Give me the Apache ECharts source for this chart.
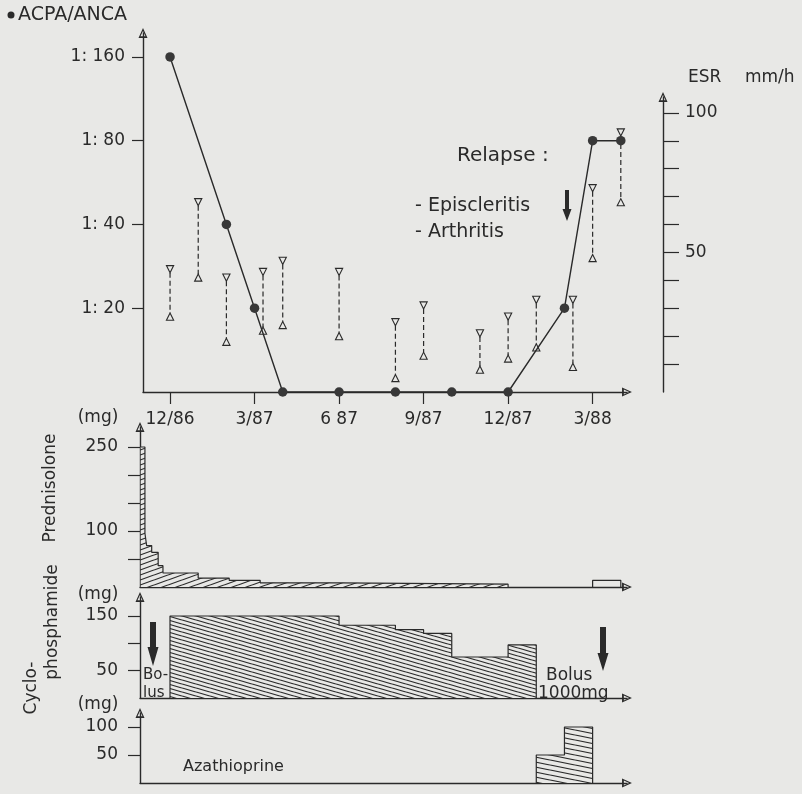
<!DOCTYPE html>
<html>
<head>
<meta charset="utf-8">
<title>ACPA/ANCA, ESR and therapy</title>
<script src="https://cdn.jsdelivr.net/npm/echarts@6/dist/echarts.min.js"></script>
<style>
  html, body { margin: 0; padding: 0; background: #e8e8e6; }
  #chart { width: 802px; height: 794px; }
</style>
</head>
<body>
<div id="chart"></div>
<script>
// === Data (months counted from 12/86) ===
const tickMonths = [0, 3, 6, 9, 12, 15];
const tickLabels = ['12/86', '3/87', '6 87', '9/87', '12/87', '3/88'];

const titreTicks = [20, 40, 80, 160];
const acpaMonths = [0, 2, 3, 4, 6, 8, 10, 12, 14, 15, 16];
const acpaTitre = [160, 40, 20, 10, 10, 10, 10, 10, 20, 80, 80];

const esrTicks = [10, 20, 30, 40, 50, 60, 70, 80, 90, 100];
const esrLabels = [50, 100];
const esrMonths = [0, 1, 2, 3.3, 4, 6, 8, 9, 11, 12, 13, 14.3, 15, 16];
const esrHigh = [44, 68, 41, 43, 47, 43, 25, 31, 21, 27, 33, 33, 73, 93];
const esrLow = [27, 41, 18, 22, 24, 20, 5, 13, 8, 12, 16, 9, 48, 68];

const predTicks = [50, 100, 150, 200, 250];
const predLabels = [100, 250];
const predMonths = [-1.04, -0.89, -0.83, -0.65, -0.42, -0.25, 1.0, 2.1, 3.2, 6.0, 12.0];
const predDose = [250, 96, 74, 62, 38, 25, 16, 12, 7.5, 5, 0];
const predRestartMonths = [15, 15, 16];
const predRestartDose = [0, 12, 0];

const cycloTicks = [50, 100, 150];
const cycloLabels = [50, 150];
const cycloMonths = [0, 0, 6, 8, 9, 10, 12, 13];
const cycloDose = [0, 150, 133, 125, 118, 75, 97, 0];

const azaTicks = [50, 100];
const azaMonths = [13, 13, 14, 15];
const azaDose = [0, 50, 100, 0];

// === Style ===
const INK = '#2a2a2a';
const BG = '#e8e8e6';
const FONT = 'DejaVu Sans';
const ARROW = 'path://M5,0 L10,11 L0,11 Z M5,3.2 L2.2,9 L7.8,9 Z';

const pairs = (xs, ys) => xs.map((x, i) => [x, ys[i]]);

// hachures : tuile w x h, une ligne par tuile
function hatch(w, h, rising) {
  const c = document.createElement('canvas');
  c.width = w; c.height = h;
  const g = c.getContext('2d');
  g.fillStyle = BG; g.fillRect(0, 0, w, h);
  g.strokeStyle = INK; g.lineWidth = 1.15;
  for (let k = -1; k <= 1; k++) {
    g.beginPath();
    if (rising) { g.moveTo(0, k * h + h); g.lineTo(w, k * h); }
    else { g.moveTo(0, k * h); g.lineTo(w, k * h + h); }
    g.stroke();
  }
  return { image: c, repeat: 'repeat' };
}

const axisLine = { show: true, onZero: false, symbol: ['none', ARROW], symbolSize: [9, 11], lineStyle: { color: INK, width: 1.4 } };

function timeAxis(grid, min, extra) {
  return Object.assign({
    type: 'value', gridIndex: grid, min: min, max: 16.22,
    axisLine: axisLine,
    axisTick: { show: false }, axisLabel: { show: false }, splitLine: { show: false }
  }, extra || {});
}

function doseAxis(grid, max, ticks, labels) {
  return {
    type: 'value', gridIndex: grid, min: 0, max: max,
    axisLine: axisLine,
    axisTick: { show: true, length: 12, customValues: ticks, lineStyle: { color: INK, width: 1.2 } },
    axisLabel: { customValues: labels, margin: 22, color: INK, fontFamily: FONT, fontSize: 17 },
    splitLine: { show: false }
  };
}

function stepArea(x, y, data, fill) {
  return {
    type: 'line', xAxisIndex: x, yAxisIndex: y, data: data, step: 'end',
    symbol: 'none', lineStyle: { color: INK, width: 1.2 },
    areaStyle: fill ? { color: fill, opacity: 1 } : undefined, z: 3
  };
}

function thickArrow(cx, top, bottom, shaft, head, headLen) {
  return {
    type: 'polygon',
    shape: { points: [
      [cx - shaft, top], [cx + shaft, top], [cx + shaft, bottom - headLen],
      [cx + head, bottom - headLen], [cx, bottom], [cx - head, bottom - headLen],
      [cx - shaft, bottom - headLen]
    ] },
    style: { fill: INK }
  };
}

function label(text, x, y, size, opts) {
  opts = opts || {};
  return {
    type: 'text', x: x, y: y, rotation: opts.rotation || 0,
    style: { text: text, font: size + 'px "' + FONT + '"', fill: INK, align: opts.align || 'left', verticalAlign: 'middle' }
  };
}

const chart = echarts.init(document.getElementById('chart'), null, { renderer: 'canvas' });

const option = {
  backgroundColor: BG,
  animation: false,
  grid: [
    { left: 143, right: 175, top: 33, bottom: 402, outerBoundsMode: 'none' },
    { left: 143, right: 175, top: 97, bottom: 402, outerBoundsMode: 'none' },
    { left: 140, right: 175, top: 427, bottom: 207, outerBoundsMode: 'none' },
    { left: 140, right: 175, top: 597, bottom: 96, outerBoundsMode: 'none' },
    { left: 140, right: 175, top: 713, bottom: 11, outerBoundsMode: 'none' }
  ],
  xAxis: [
    timeAxis(0, -0.96, {
      axisTick: { show: true, length: 12, inside: false, customValues: tickMonths, lineStyle: { color: INK, width: 1.2 } },
      axisLabel: {
        show: true, customValues: tickMonths, margin: 19, color: INK, fontFamily: FONT, fontSize: 17,
        formatter: v => tickLabels[tickMonths.indexOf(v)]
      }
    }),
    timeAxis(1, -0.96, { show: false }),
    timeAxis(2, -1.065),
    timeAxis(3, -1.065),
    timeAxis(4, -1.065)
  ],
  yAxis: [
    {
      type: 'log', logBase: 2, gridIndex: 0, min: 10, max: 195,
      axisLine: axisLine,
      axisTick: { show: true, length: 11, customValues: titreTicks, lineStyle: { color: INK, width: 1.2 } },
      axisLabel: { customValues: titreTicks, margin: 18, color: INK, fontFamily: FONT, fontSize: 17, formatter: v => '1: ' + v },
      splitLine: { show: false }, minorTick: { show: false }
    },
    {
      type: 'value', gridIndex: 1, position: 'right', offset: 36, min: 0, max: 105.7,
      axisLine: axisLine,
      axisTick: { show: true, length: 16, customValues: esrTicks, lineStyle: { color: INK, width: 1.2 } },
      axisLabel: { customValues: esrLabels, margin: 22, color: INK, fontFamily: FONT, fontSize: 17 },
      splitLine: { show: false }
    },
    doseAxis(2, 285.7, predTicks, predLabels),
    doseAxis(3, 184.7, cycloTicks, cycloLabels),
    doseAxis(4, 125, azaTicks, azaTicks)
  ],
  series: [
    {
      name: 'ACPA/ANCA', type: 'line', xAxisIndex: 0, yAxisIndex: 0,
      data: pairs(acpaMonths, acpaTitre),
      symbol: 'circle', symbolSize: 9.5, clip: false,
      lineStyle: { color: INK, width: 1.4 }, itemStyle: { color: '#383838' }, z: 5
    },
    {
      name: 'ESR', type: 'custom', xAxisIndex: 1, yAxisIndex: 1,
      data: esrMonths.map((m, i) => [m, esrHigh[i], esrLow[i]]),
      renderItem: (params, api) => {
        const top = api.coord([api.value(0), api.value(1)]);
        const bot = api.coord([api.value(0), api.value(2)]);
        const s = 3.6;
        const tri = { fill: BG, stroke: INK, lineWidth: 1.1 };
        return {
          type: 'group', children: [
            { type: 'line', shape: { x1: top[0], y1: top[1] + s, x2: bot[0], y2: bot[1] - s },
              style: { stroke: INK, lineWidth: 1.2, lineDash: [5, 3] } },
            { type: 'polygon', shape: { points: [[top[0] - s, top[1] - s], [top[0] + s, top[1] - s], [top[0], top[1] + s]] }, style: tri },
            { type: 'polygon', shape: { points: [[bot[0] - s, bot[1] + s], [bot[0] + s, bot[1] + s], [bot[0], bot[1] - s]] }, style: tri }
          ]
        };
      },
      z: 4
    },
    stepArea(2, 2, pairs(predMonths, predDose), hatch(14, 5, true)),
    stepArea(2, 2, pairs(predRestartMonths, predRestartDose), null),
    stepArea(3, 3, pairs(cycloMonths, cycloDose), hatch(14, 4, false)),
    stepArea(4, 4, pairs(azaMonths, azaDose), hatch(25, 5, false))
  ],
  graphic: [
    { type: 'circle', shape: { cx: 11, cy: 15, r: 3.5 }, style: { fill: INK } },
    label('ACPA/ANCA', 18, 15, 19),
    label('ESR', 688, 78, 17),
    label('mm/h', 745, 78, 17),
    label('Relapse :', 457, 156, 20),
    label('- Episcleritis', 415, 206, 19),
    label('- Arthritis', 415, 232, 19),
    thickArrow(567, 190, 221, 2, 4.5, 12),
    label('(mg)', 98, 418, 17, { align: 'center' }),
    label('(mg)', 98, 595, 17, { align: 'center' }),
    label('(mg)', 98, 705, 17, { align: 'center' }),
    label('Prednisolone', 51, 488, 17, { align: 'center', rotation: Math.PI / 2 }),
    label('Cyclo-', 32, 688, 17, { align: 'center', rotation: Math.PI / 2 }),
    label('phosphamide', 53, 622, 17, { align: 'center', rotation: Math.PI / 2 }),
    thickArrow(153, 622, 666, 3, 5.5, 19),
    label('Bo-', 143, 675, 15),
    label('lus', 143, 693, 15),
    thickArrow(603, 627, 671, 3, 5.5, 18),
    label('Bolus', 546, 676, 17),
    label('1000mg', 538, 694, 17),
    label('Azathioprine', 183, 767, 16)
  ]
};

chart.setOption(option);
window.addEventListener('resize', () => chart.resize());
</script>
</body>
</html>
